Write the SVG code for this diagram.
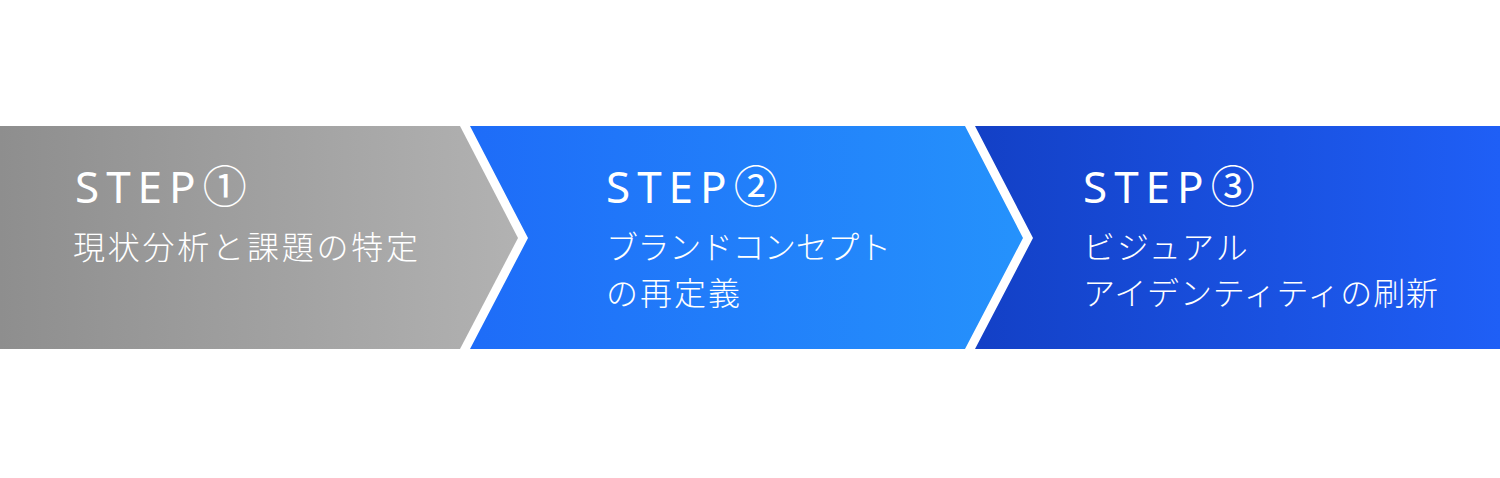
<svg xmlns="http://www.w3.org/2000/svg" width="1500" height="478" viewBox="0 0 1500 478">
<defs>
<linearGradient id="g1" x1="0" y1="0" x2="1" y2="0">
<stop offset="0" stop-color="#8e8e8e"/>
<stop offset="1" stop-color="#b2b2b2"/>
</linearGradient>
<linearGradient id="g2" x1="0" y1="0" x2="1" y2="0">
<stop offset="0" stop-color="#1e6cf8"/>
<stop offset="1" stop-color="#2592fc"/>
</linearGradient>
<linearGradient id="g3" x1="0" y1="0" x2="1" y2="0">
<stop offset="0" stop-color="#1340c6"/>
<stop offset="1" stop-color="#1f5ff6"/>
</linearGradient>
</defs>
<style>
.step{font-family:"Noto Sans","Noto Sans CJK JP",sans-serif;font-size:44px;font-weight:400;fill:#ffffff;letter-spacing:7px}
.jp{font-family:"Noto Sans CJK JP","Noto Sans",sans-serif;font-size:32px;font-weight:300;fill:#ffffff;letter-spacing:2px}
</style>
<rect width="1500" height="478" fill="#ffffff"/>
<g id="step1">
<polygon points="0,126 460,126 518,238 460,349 0,349" fill="url(#g1)"/>
<text class="step" x="75" y="203">STEP①</text>
<text class="jp" x="73" y="259" textLength="347" lengthAdjust="spacing">現状分析と課題の特定</text>
</g>
<g id="step2">
<polygon points="470,126 965,126 1023,238 965,349 470,349 528,238" fill="url(#g2)"/>
<text class="step" x="606" y="203">STEP②</text>
<text class="jp" x="606" y="259" textLength="287" lengthAdjust="spacing">ブランドコンセプト</text>
<text class="jp" x="606" y="305">の再定義</text>
</g>
<g id="step3">
<polygon points="975,126 1500,126 1500,349 975,349 1033,238" fill="url(#g3)"/>
<text class="step" x="1083" y="203">STEP③</text>
<text class="jp" x="1083" y="259">ビジュアル</text>
<text class="jp" x="1083" y="305" textLength="357" lengthAdjust="spacing">アイデンティティの刷新</text>
</g>
<g id="connectors"/>
</svg>
